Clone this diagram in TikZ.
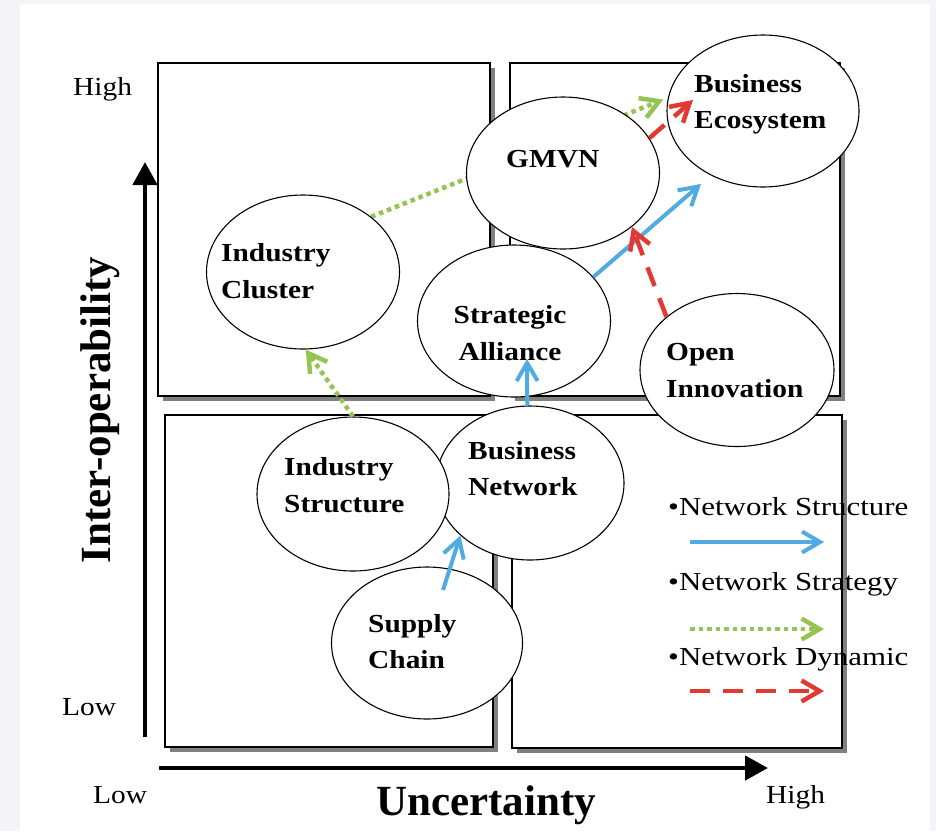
\documentclass[tikz,border=0pt]{standalone}
\usepackage{fontspec}
\setmainfont{Liberation Serif}
\newfontfamily\labfont{Liberation Serif}[FakeStretch=1.13]
\newfontfamily\legfont{Liberation Serif}[FakeStretch=1.19]
\usetikzlibrary{shapes.geometric,arrows.meta}
\definecolor{bgc}{RGB}{244,244,248}
\definecolor{blu}{RGB}{80,172,224}
\definecolor{grn}{RGB}{150,196,82}
\definecolor{redd}{RGB}{226,58,50}
\definecolor{shad}{RGB}{128,128,128}
\pgfdeclarelayer{bgl}
\pgfdeclarelayer{midl}
\pgfsetlayers{bgl,midl,main}
\tikzset{
  box/.style={draw=black, line width=1.3pt, fill=white},
  ell/.style={ellipse, draw=black, line width=1.1pt, fill=white, inner sep=0pt},
  lab/.style={font=\labfont\fontsize{26}{36}\selectfont\bfseries, inner sep=0pt, anchor=base west},
  labc/.style={font=\labfont\fontsize{26}{36}\selectfont\bfseries, inner sep=0pt, anchor=base},
  small/.style={font=\labfont\fontsize{26}{36}\selectfont, inner sep=0pt, anchor=base west},
  legtxt/.style={font=\legfont\fontsize{26}{36}\selectfont, inner sep=0pt, anchor=base west},
  axtitle/.style={font=\fontsize{43}{50}\selectfont\bfseries, inner sep=0pt, anchor=base},
  axis/.style={line width=4.5pt, -{Triangle[length=23pt,width=24pt]}},
  tipb/.style={-{Straight Barb[length=18pt,width=21pt]}},
  bluearr/.style={tipb, draw=blu, line width=4pt},
  grnarr/.style={tipb, draw=grn, line width=4.5pt, dash pattern=on 4.5pt off 4pt},
  redarr/.style={tipb, draw=redd, line width=4.5pt, dash pattern=on 20pt off 13pt}
}
\begin{document}
\begin{tikzpicture}[x=1pt,y=-1pt]
\useasboundingbox (0,0) rectangle (936,831);
\begin{pgfonlayer}{bgl}
\fill[bgc] (0,0) rectangle (936,831);
\fill[white] (20,4) rectangle (930,831);
% quadrant boxes with shadows
\fill[shad] (163,68) rectangle (495,401);
\draw[box] (158,63) rectangle (490,396);
\fill[shad] (515,68) rectangle (845,401);
\draw[box] (510,63) rectangle (840,396);
\fill[shad] (170,420) rectangle (498,752);
\draw[box] (165,415) rectangle (493,747);
\fill[shad] (517,420) rectangle (847,753);
\draw[box] (512,415) rectangle (842,748);
% axes
\coordinate (vA) at (145,737);
\coordinate (vB) at (145,162);
\coordinate (hA) at (159,768);
\coordinate (hB) at (768,768);
\draw[axis] (vA) -- (vB);
\draw[axis] (hA) -- (hB);
\end{pgfonlayer}

% axis texts
\node[small] (hiY) at (73,95) {High};
\node[small] (loY) at (62,715) {Low};
\node[small] (loX) at (93,803) {Low};
\node[small] (hiX) at (766,803) {High};
\node[axtitle, rotate=90] (yT) at (110,410) {Inter-operability};
\node[axtitle] (xT) at (486,815) {Uncertainty};

% ellipses
\node[ell, minimum width=192pt, minimum height=152pt] (BE) at (763,111) {};
\node[ell, minimum width=193pt, minimum height=152pt] (GM) at (563,173) {};
\node[ell, minimum width=193pt, minimum height=154pt] (IC) at (303,272) {};
\node[ell, minimum width=193pt, minimum height=152pt] (SA) at (514,321) {};
\node[ell, minimum width=194pt, minimum height=153pt] (OI) at (737,370) {};
\node[ell, minimum width=188pt, minimum height=154pt] (BN) at (530,483) {};
\node[ell, minimum width=192pt, minimum height=154pt] (IS) at (353,494) {};
\node[ell, minimum width=191pt, minimum height=152pt] (SC) at (427,643) {};

% labels
\node[lab] (BEt1) at (694,92) {Business};
\node[lab] (BEt2) at (694,128) {Ecosystem};
\node[lab] (GMt) at (506,167) {GMVN};
\node[lab] (ICt1) at (221,261) {Industry};
\node[lab] (ICt2) at (221,298) {Cluster};
\node[labc] (SAt1) at (510,323) {Strategic};
\node[labc] (SAt2) at (510,360) {Alliance};
\node[lab] (OIt1) at (666,360) {Open};
\node[lab] (OIt2) at (666,397) {Innovation};
\node[lab] (ISt1) at (284,475) {Industry};
\node[lab] (ISt2) at (284,512) {Structure};
\node[lab] (BNt1) at (468,459) {Business};
\node[lab] (BNt2) at (468,495) {Network};
\node[lab] (SCt1) at (368,632) {Supply};
\node[lab] (SCt2) at (368,668) {Chain};

% connectors
\begin{pgfonlayer}{midl}
\draw[grnarr, shorten >=5pt] (IC.39) -- (BE.172);
\end{pgfonlayer}
\coordinate (SCa) at (443,590);
\coordinate (SAin) at (527,359);
\coordinate (BEr) at (693,100);
\draw[bluearr] (SCa) -- (BN.217);
\draw[bluearr] (BN.92) -- (SAin);
\draw[bluearr, shorten >=13pt] (SA.29) -- (BE.231);
\draw[grnarr] (IS.north) -- (IC.272);
\draw[redarr] (OI.143) -- (GM.322);
\draw[redarr] (GM.22) -- (BEr);

% legend
\node[legtxt] (L1) at (668,515) {\textbullet Network Structure};
\node[legtxt] (L2) at (668,590) {\textbullet Network Strategy};
\node[legtxt] (L3) at (668,665) {\textbullet Network Dynamic};
\coordinate (L1a) at (690,542);
\coordinate (L1b) at (824,542);
\coordinate (L2a) at (690,629);
\coordinate (L2b) at (824,629);
\coordinate (L3a) at (690,691);
\coordinate (L3b) at (824,691);
\draw[bluearr] (L1a) -- (L1b);
\draw[grnarr] (L2a) -- (L2b);
\draw[redarr] (L3a) -- (L3b);
\end{tikzpicture}
\end{document}
